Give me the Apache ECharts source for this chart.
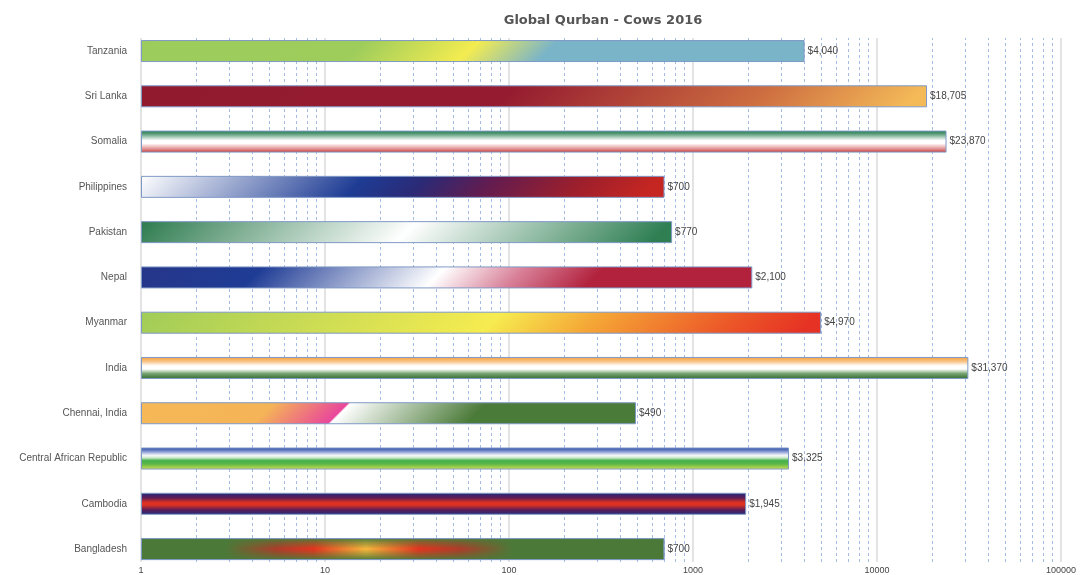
<!DOCTYPE html>
<html><head><meta charset="utf-8">
<script src="https://cdn.jsdelivr.net/npm/echarts@6/dist/echarts.min.js"></script>
<style>html,body{margin:0;padding:0;background:#fff}#c{width:1080px;height:575px}</style>
</head><body><div id="c"></div>
<script>
// ---- data ----
const categories = ['Bangladesh','Cambodia','Central African Republic','Chennai, India','India','Myanmar','Nepal','Pakistan','Philippines','Somalia','Sri Lanka','Tanzania'];
const costs = [700, 1945, 3325, 490, 31370, 4970, 2100, 770, 700, 23870, 18705, 4040];
const axisMin = 1, axisMax = 100000;
const minorTicks = [2,3,4,5,6,7,8,9,20,30,40,50,60,70,80,90,200,300,400,500,600,700,800,900,
  2000,3000,4000,5000,6000,7000,8000,9000,20000,30000,40000,50000,60000,70000,80000,90000];

// ---- layout / style ----
const W = 1080, GL = 141, GR = 19, BAR_H = 22;
const DECADE = (W - GL - GR) / Math.log10(axisMax / axisMin);
const FONT = 'Liberation Sans, Arial, sans-serif';

function stops(s){ return s.map(([o,c]) => ({offset:o, color:c})); }
function diag(s, v){
  const bw = Math.log10(v / axisMin) * DECADE;
  return {type:'linear', x:0, y:0, x2:0.5, y2: bw / (2 * BAR_H), colorStops: stops(s)};
}
function vert(s){ return {type:'linear', x:0, y:0, x2:0, y2:1, colorStops: stops(s)}; }
function horiz(s){ return {type:'linear', x:0, y:0, x2:1, y2:0, colorStops: stops(s)}; }

const G = '#4b7a38';
const fills = {
  'Bangladesh': v => horiz([[0,G],[0.16,G],[0.26,'#b03a28'],[0.33,'#e8321e'],[0.43,'#f9b83c'],[0.53,'#e8321e'],[0.61,'#b03a28'],[0.71,G],[1,G]]),
  'Cambodia': v => vert([[0,'#232c7c'],[0.22,'#5a1c58'],[0.44,'#dc3022'],[0.56,'#dc3022'],[0.78,'#5a1c58'],[1,'#232c7c']]),
  'Central African Republic': v => vert([[0,'#2a46a4'],[0.15,'#6f86c8'],[0.35,'#f4f6fb'],[0.45,'#d8efd6'],[0.6,'#44b04a'],[0.75,'#5cb848'],[1,'#d6e04c']]),
  'Chennai, India': v => diag([[0,'#f6b957'],[0.27,'#f5b457'],[0.42,'#e9479b'],[0.425,'#ffffff'],[0.7,'#4b7b39'],[1,'#4b7b39']], v),
  'India': v => vert([[0,'#f4a03e'],[0.2,'#f8c283'],[0.4,'#ffffff'],[0.55,'#ffffff'],[0.75,'#7aa575'],[1,'#2f6a2b']]),
  'Myanmar': v => diag([[0,'#a0cc58'],[0.53,'#f6ec50'],[0.68,'#f5a636'],[0.88,'#ec5828'],[1,'#e63224']], v),
  'Nepal': v => diag([[0,'#263689'],[0.2,'#1f3c95'],[0.5,'#ffffff'],[0.63,'#d88098'],[0.76,'#b2223d'],[1,'#b2223d']], v),
  'Pakistan': v => diag([[0,'#2d7b4e'],[0.52,'#ffffff'],[1,'#2f7f53']], v),
  'Philippines': v => diag([[0,'#ffffff'],[0.43,'#1e3c94'],[0.55,'#2b2a76'],[0.68,'#621c50'],[0.85,'#9c1f2c'],[1,'#c62621']], v),
  'Somalia': v => vert([[0,'#1e7a4e'],[0.15,'#5a9c78'],[0.45,'#ffffff'],[0.58,'#ffffff'],[0.85,'#e08a8a'],[1,'#c83232']]),
  'Sri Lanka': v => diag([[0,'#921a2f'],[0.48,'#951c30'],[0.8,'#cd6d40'],[1,'#f4ba58']], v),
  'Tanzania': v => diag([[0,'#9ccc5c'],[0.34,'#9ecd5c'],[0.51,'#f4ec50'],[0.63,'#7ab4c9'],[1,'#7ab4c9']], v)
};
const overlays = {
  'Bangladesh': vert([[0,'rgba(75,122,56,1)'],[0.18,'rgba(75,122,56,0.6)'],[0.5,'rgba(75,122,56,0)'],[0.82,'rgba(75,122,56,0.6)'],[1,'rgba(75,122,56,1)']])
};

const chart = echarts.init(document.getElementById('c'), null, {renderer:'canvas'});
chart.setOption({
  animation: false,
  backgroundColor: '#fff',
  title: {
    text: 'Global Qurban - Cows 2016',
    left: 598, top: 9, textAlign: 'center',
    textStyle: {fontFamily: 'DejaVu Sans, sans-serif', fontSize: 13, fontWeight: 'bold', color: '#555'}
  },
  grid: [
    {left: GL, right: GR, top: 28.4, bottom: 3.3},
    {left: GL, right: GR, top: 38, bottom: 10}
  ],
  xAxis: [
    {gridIndex: 0, type: 'log', logBase: 10, min: axisMin, max: axisMax, show: false},
    {gridIndex: 1, type: 'log', logBase: 10, min: axisMin, max: axisMax, splitNumber: 5,
      axisLine: {show: false}, axisTick: {show: false},
      axisLabel: {color: '#444', fontSize: 9, fontFamily: FONT, margin: 4, formatter: v => String(v)},
      splitLine: {show: true, lineStyle: {color: '#e3e3e3', width: 2}}}
  ],
  yAxis: [
    {gridIndex: 0, type: 'category', data: categories,
      axisLine: {show: false}, axisTick: {show: false}, splitLine: {show: false},
      axisLabel: {color: '#555', fontSize: 10, fontFamily: FONT, margin: 14}},
    {gridIndex: 1, type: 'value', min: 0, max: 1, show: false}
  ],
  series: [
    {
      type: 'line', xAxisIndex: 1, yAxisIndex: 1, data: [[1, 0]], showSymbol: false, silent: true,
      lineStyle: {opacity: 0}, z: 1,
      markLine: {
        z: 1, silent: true, symbol: ['none','none'], label: {show: false}, animation: false,
        lineStyle: {color: '#a3bae2', width: 1, type: [3, 3]},
        emphasis: {disabled: true},
        data: minorTicks.map(t => ({xAxis: t}))
      }
    },
    {
      type: 'bar', xAxisIndex: 0, yAxisIndex: 0, barWidth: BAR_H, z: 3,
      data: costs.map((v, i) => ({value: v, itemStyle: {color: fills[categories[i]](v)}})),
      itemStyle: {borderColor: '#7f99c6', borderWidth: 1},
      label: {show: true, position: 'right', distance: 3, color: '#444', fontSize: 10, fontFamily: FONT,
        formatter: p => '$' + p.value.toLocaleString('en-US')}
    },
    {
      type: 'bar', xAxisIndex: 0, yAxisIndex: 0, barWidth: BAR_H, barGap: '-100%', z: 4, silent: true,
      data: costs.map((v, i) => overlays[categories[i]] ? {value: v, itemStyle: {color: overlays[categories[i]]}} : '-'),
      itemStyle: {borderColor: '#7f99c6', borderWidth: 1}
    }
  ]
});
</script></body></html>
